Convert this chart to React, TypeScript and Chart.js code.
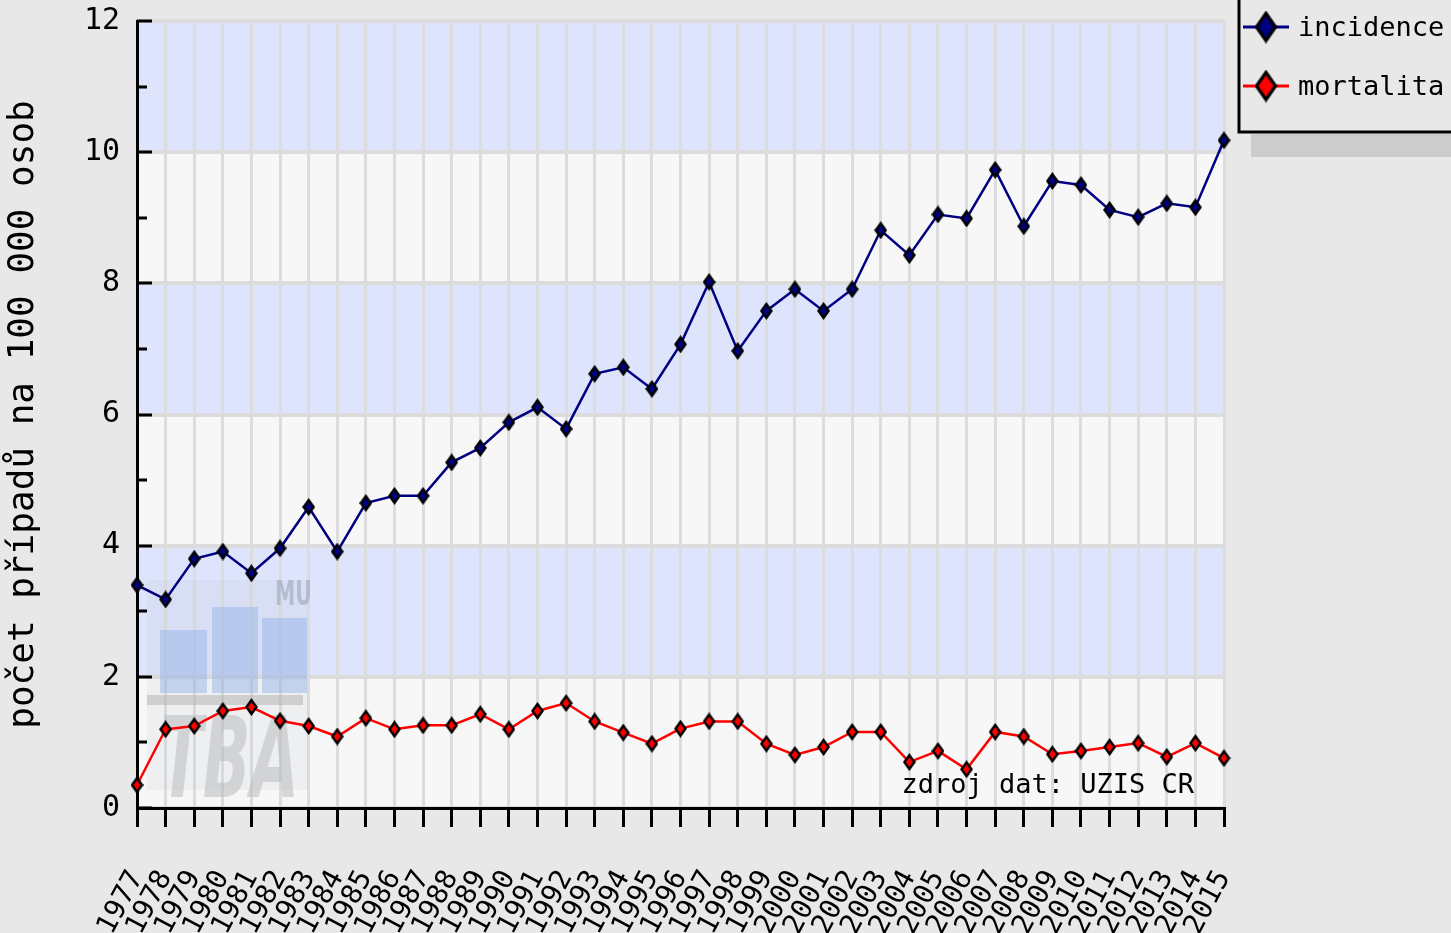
import React, { useEffect, useRef } from 'react';
import { Chart, registerables } from 'chart.js';

Chart.register(...registerables);

// ---- data ----
const years = [
  '1977', '1978', '1979', '1980', '1981', '1982', '1983', '1984', '1985', '1986',
  '1987', '1988', '1989', '1990', '1991', '1992', '1993', '1994', '1995', '1996',
  '1997', '1998', '1999', '2000', '2001', '2002', '2003', '2004', '2005', '2006',
  '2007', '2008', '2009', '2010', '2011', '2012', '2013', '2014', '2015',
];
const incidence = [
  3.40, 3.18, 3.80, 3.91, 3.58, 3.96, 4.59, 3.91, 4.65, 4.76,
  4.76, 5.27, 5.49, 5.88, 6.11, 5.78, 6.62, 6.72, 6.39, 7.07,
  8.02, 6.97, 7.58, 7.91, 7.58, 7.91, 8.81, 8.43, 9.05, 8.99,
  9.73, 8.87, 9.56, 9.50, 9.12, 9.01, 9.22, 9.16, 10.18,
];
const mortalita = [
  0.35, 1.20, 1.25, 1.48, 1.54, 1.33, 1.25, 1.09, 1.37, 1.20,
  1.26, 1.26, 1.43, 1.20, 1.48, 1.60, 1.32, 1.15, 0.98, 1.21,
  1.32, 1.32, 0.98, 0.81, 0.93, 1.16, 1.16, 0.70, 0.87, 0.59,
  1.16, 1.09, 0.82, 0.87, 0.93, 0.99, 0.78, 0.99, 0.76,
];
const seriesLabels = ['incidence', 'mortalita'];
const seriesColors = ['#000080', '#ff0000'];
const yMin = 0;
const yMax = 12;
const yStep = 2;
const yTitle = 'počet případů na 100 000 osob';
const sourceNote = 'zdroj dat: UZIS CR';

const MONO = "'DejaVu Sans Mono', 'Liberation Mono', monospace";
const BG = '#e8e8e8';

function makeDiamond(color: string, w: number, h: number, border: number) {
  const c = document.createElement('canvas');
  c.width = w;
  c.height = h;
  const g = c.getContext('2d')!;
  const path = (inset: number) => {
    const ix = inset;
    const iy = inset * (h / w);
    g.beginPath();
    g.moveTo(w / 2, iy);
    g.lineTo(w - ix, h / 2);
    g.lineTo(w / 2, h - iy);
    g.lineTo(ix, h / 2);
    g.closePath();
  };
  g.fillStyle = '#000';
  path(0);
  g.fill();
  g.fillStyle = color;
  path(border);
  g.fill();
  return c;
}

const decorPlugin = {
  id: 'decor',
  beforeDraw(chart: any) {
    const { ctx, chartArea, scales } = chart;
    const y = scales.y;
    ctx.save();
    for (let v = yMin; v < yMax; v += yStep) {
      const top = y.getPixelForValue(v + yStep);
      const bot = y.getPixelForValue(v);
      ctx.fillStyle = (v / yStep) % 2 === 0 ? '#f7f7f7' : '#dde4fb';
      ctx.fillRect(chartArea.left, top, chartArea.right - chartArea.left, bot - top);
    }
    ctx.restore();
  },
  beforeDatasetsDraw(chart: any) {
    // faint logo watermark in lower left of plot
    const { ctx, chartArea } = chart;
    const L = chartArea.left;
    const B = chartArea.bottom;
    ctx.save();
    ctx.fillStyle = 'rgba(190,195,210,0.15)';
    ctx.fillRect(L + 10, B - 228, 161, 210);
    ctx.fillStyle = 'rgba(150,180,232,0.5)';
    ctx.fillRect(L + 23, B - 178, 47, 63);
    ctx.fillRect(L + 75, B - 201, 46, 86);
    ctx.fillRect(L + 125, B - 190, 45, 75);
    ctx.fillStyle = 'rgba(175,175,175,0.5)';
    ctx.fillRect(L + 10, B - 113, 156, 10);
    ctx.fillStyle = 'rgba(185,187,190,0.55)';
    ctx.translate(L + 23, B - 11);
    ctx.scale(0.56, 1);
    ctx.font = "bold italic 112px 'DejaVu Sans', sans-serif";
    ctx.textBaseline = 'alphabetic';
    ctx.textAlign = 'left';
    ctx.fillText('TBA', 0, 0);
    ctx.restore();
    ctx.save();
    ctx.fillStyle = 'rgba(150,158,178,0.55)';
    ctx.translate(L + 138, B - 203);
    ctx.scale(0.6, 1);
    ctx.font = "bold 34px 'DejaVu Sans', sans-serif";
    ctx.textBaseline = 'alphabetic';
    ctx.fillText('MU', 0, 0);
    ctx.restore();
  },
  afterDraw(chart: any) {
    const { ctx, chartArea, scales } = chart;
    const y = scales.y;
    ctx.save();
    // inner y tick marks (major at labels, minor in between)
    ctx.strokeStyle = '#000';
    ctx.lineWidth = 3;
    for (let v = yMin; v <= yMax; v += yStep / 2) {
      const py = Math.round(y.getPixelForValue(v));
      const len = (v % yStep === 0) ? 15 : 10;
      ctx.beginPath();
      ctx.moveTo(chartArea.left, py);
      ctx.lineTo(chartArea.left + len, py);
      ctx.stroke();
    }
    // source note
    ctx.fillStyle = '#000';
    ctx.font = `27px ${MONO}`;
    ctx.textAlign = 'right';
    ctx.textBaseline = 'alphabetic';
    ctx.fillText(sourceNote, chartArea.right - 30, chartArea.bottom - 15);

    // legend box with shadow
    const bx = 1239;
    const by = -10;
    const bw = 240;
    const bh = 142;
    ctx.fillStyle = '#cccccc';
    ctx.fillRect(bx + 12, by + bh + 2, bw, 23);
    ctx.fillStyle = BG;
    ctx.fillRect(bx, by, bw, bh);
    ctx.strokeStyle = '#000';
    ctx.lineWidth = 3;
    ctx.strokeRect(bx, by, bw, bh);
    chart.data.datasets.forEach((ds: any, i: number) => {
      const cy = 27 + i * 59;
      ctx.strokeStyle = ds.borderColor;
      ctx.lineWidth = 3;
      ctx.beginPath();
      ctx.moveTo(1243, cy);
      ctx.lineTo(1289, cy);
      ctx.stroke();
      const d = makeDiamond(ds.borderColor, 23, 33, 4);
      ctx.drawImage(d, 1266 - 11.5, cy - 16.5);
      ctx.fillStyle = '#000';
      ctx.font = `27px ${MONO}`;
      ctx.textAlign = 'left';
      ctx.textBaseline = 'middle';
      ctx.fillText(ds.label, 1298, cy + 2);
    });
    ctx.restore();
  },
};

export default function App() {
  const ref = useRef<HTMLCanvasElement | null>(null);

  useEffect(() => {
    const canvas = ref.current;
    if (!canvas) return;
    const seriesData = [incidence, mortalita];
    const chart = new Chart(canvas, {
      type: 'line',
      data: {
        labels: years,
        datasets: seriesData.map((d, i) => ({
          label: seriesLabels[i],
          data: d,
          borderColor: seriesColors[i],
          backgroundColor: seriesColors[i],
          borderWidth: 2.5,
          pointStyle: makeDiamond(seriesColors[i], 13, 18, 3) as any,
          pointRadius: 7,
          tension: 0,
          clip: false as any,
        })),
      },
      options: {
        responsive: false,
        devicePixelRatio: 1,
        animation: false,
        events: [],
        layout: { padding: { top: 21, right: 227, bottom: 0, left: 0 } },
        plugins: {
          legend: { display: false },
          tooltip: { enabled: false },
        },
        scales: {
          x: {
            type: 'category',
            offset: false,
            afterFit: (s: any) => {
              s.height = 125;
              s.paddingLeft = 0;
              s.paddingRight = 0;
            },
            grid: {
              color: '#dcdcdc',
              lineWidth: 3,
              drawTicks: true,
              tickLength: 19,
              tickColor: '#000',
              tickWidth: 3,
            },
            border: { display: true, color: '#000', width: 3 },
            ticks: {
              autoSkip: false,
              minRotation: 62,
              maxRotation: 62,
              padding: 38,
              color: '#000',
              font: { family: MONO, size: 28 },
            },
          },
          y: {
            min: yMin,
            max: yMax,
            afterFit: (s: any) => {
              s.width = 137;
              s.paddingTop = 0;
              s.paddingBottom = 0;
            },
            grid: {
              color: '#dcdcdc',
              lineWidth: 4,
              drawTicks: false,
            },
            border: { display: true, color: '#000', width: 3 },
            ticks: {
              stepSize: yStep,
              padding: 17,
              color: '#000',
              font: { family: MONO, size: 30 },
            },
            title: {
              display: true,
              text: yTitle,
              color: '#000',
              font: { family: MONO, size: 36 },
              padding: { top: 2, bottom: 0 },
            },
          },
        },
      },
      plugins: [decorPlugin],
    });
    return () => chart.destroy();
  }, []);

  return (
    <div
      style={{
        position: 'fixed',
        left: 0,
        top: 0,
        width: 1451,
        height: 933,
        overflow: 'hidden',
        background: BG,
      }}
    >
      <canvas ref={ref} width={1451} height={933} style={{ display: 'block', width: 1451, height: 933 }} />
    </div>
  );
}
